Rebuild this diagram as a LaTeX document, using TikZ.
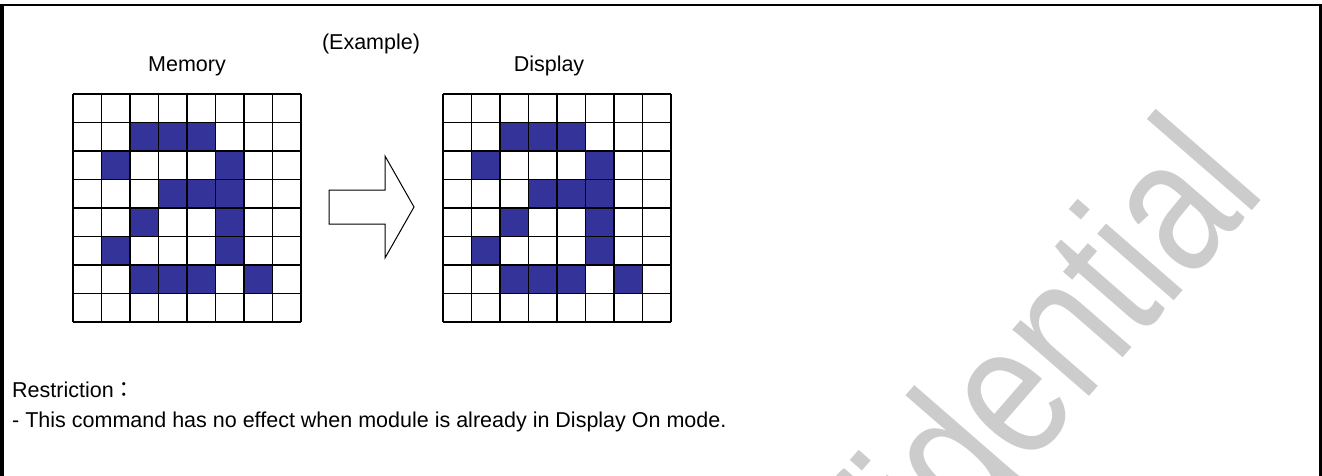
\documentclass[tikz,border=0pt]{standalone}
\usepackage{fontspec}
\setmainfont{Liberation Sans}
\newfontfamily\cjk{Noto Sans CJK TC}
\definecolor{cellblue}{RGB}{51,51,153}
\definecolor{wmgray}{RGB}{204,204,204}
\begin{document}
\begin{tikzpicture}[x=1pt,y=-1pt,
  gridline/.style={line width=1.4pt,black},
  cellfill/.style={fill=cellblue},
  lbl/.style={inner sep=0pt,font=\fontsize{21.5}{25}\selectfont},
  wm/.style={inner sep=0pt,text=wmgray,font=\fontsize{192}{192}\selectfont},
  blockarrow/.style={draw=black,line width=1pt,fill=white,line join=miter}]
\useasboundingbox (0,0) rectangle (1322,476);
\fill[white] (0,0) rectangle (1322,476);
% watermark
\begin{scope}
\clip (0,0) rectangle (1322,476);
\node[wm,rotate=49,xscale=0.8,anchor=base east] (wmk) at (1268,192) {Confidential};
\end{scope}
% frame
\draw[line width=4pt] (2,4) -- (2,476);
\draw[line width=2pt] (0,5) -- (1320,5);
\draw[line width=1.2pt] (1319.2,4) -- (1319.2,476);
\draw[line width=1.5pt] (1321.2,4) -- (1321.2,476);
% labels
\node[lbl,anchor=base] (ex) at (371,50) {(Example)};
\node[lbl,anchor=base] (mem) at (187,72) {Memory};
\node[lbl,anchor=base] (disp) at (549,72) {Display};
% grids
\foreach \gx in {73,443} {
  \foreach \r/\c in {1/2,1/3,1/4,2/1,2/5,3/3,3/4,3/5,4/2,4/5,5/1,5/5,6/2,6/3,6/4,6/6}
    \fill[cellfill] ({\gx+\c*28.5},{94+\r*28.5}) rectangle +(28.5,28.5);
  \foreach \i in {0,...,8} {
    \draw[gridline] ({\gx+\i*28.5},94) -- ({\gx+\i*28.5},322);
    \draw[gridline] (\gx,{94+\i*28.5}) -- ({\gx+228},{94+\i*28.5});
  }
}
% block arrow
\draw[blockarrow] (329,190) -- (385,190) -- (385,156) -- (414,207) -- (385,258) -- (385,224) -- (329,224) -- cycle;
% restriction text
\node[lbl,anchor=base west] (restr) at (12,397) {Restriction{\cjk ：}};
\node[lbl,anchor=base west] (rline) at (12,427) {- This command has no effect when module is already in Display On mode.};
\end{tikzpicture}
\end{document}
